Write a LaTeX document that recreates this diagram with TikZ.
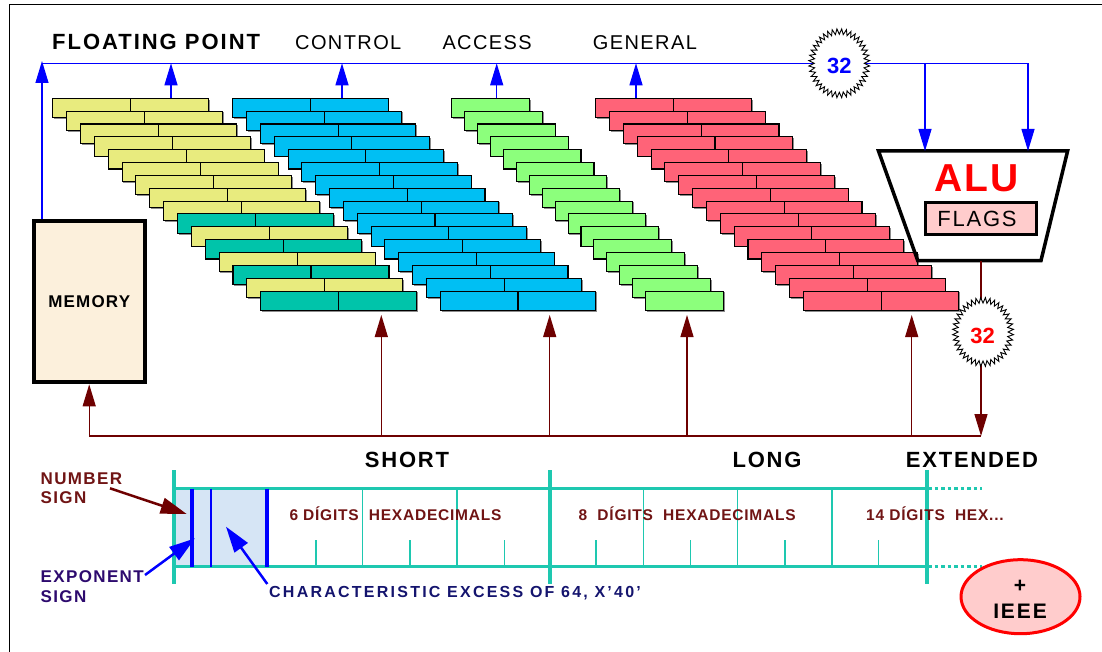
\documentclass[tikz,border=0pt]{standalone}
\usepackage{fontspec}
\setmainfont{Liberation Sans}
\usetikzlibrary{arrows.meta,shapes.geometric}

\definecolor{fpyellow}{HTML}{E8EB7E}
\definecolor{fpteal}{HTML}{00C4AA}
\definecolor{crcyan}{HTML}{00BFF3}
\definecolor{argreen}{HTML}{8CFF7C}
\definecolor{grred}{HTML}{FF6378}
\definecolor{fmtteal}{HTML}{1EC8B0}
\definecolor{busblue}{HTML}{0000FF}
\definecolor{linkred}{HTML}{6E0000}
\definecolor{memfill}{HTML}{FCF0DC}
\definecolor{flagfill}{HTML}{FFCCCC}
\definecolor{fieldblue}{HTML}{D6E5F5}
\definecolor{txtred}{HTML}{701414}
\definecolor{txtindigo}{HTML}{2D0A6E}
\definecolor{txtnavy}{HTML}{14146E}
\definecolor{alured}{HTML}{FF0000}

\newcommand{\fsz}[2]{\fontsize{#1}{#2}\selectfont}

\begin{document}
\begin{tikzpicture}[x=1pt,y=-1pt,
  regcell/.style={draw=black, line width=1.1pt},
  regshadow/.style={fill=black!45},
  busline/.style={draw=busblue, line width=1.2pt},
  busarrow/.style={busline, -{Triangle[length=22pt,width=13pt]}},
  linkline/.style={draw=linkred, line width=1.3pt},
  linkarrow/.style={linkline, -{Triangle[length=22pt,width=13pt]}},
  burst/.style={fill=white, draw=black, line width=0.9pt},
  fmtthick/.style={draw=fmtteal, line width=3.5pt},
  fmtthin/.style={draw=fmtteal, line width=1.5pt},
  fmtdots/.style={draw=fmtteal, line width=3pt, dash pattern=on 3.5pt off 3pt},
  fieldline/.style={draw=busblue, line width=#1},
  pointer/.style={line width=2.5pt, -{Triangle[length=26pt,width=16pt]}},
  txt/.style={inner sep=0pt, anchor=base},
  txtw/.style={inner sep=0pt, anchor=base west},
  hdbold/.style={txtw, font=\fsz{22}{26}\bfseries\addfontfeatures{LetterSpace=9}},
  hdreg/.style={txtw, font=\fsz{20}{24}\addfontfeatures{LetterSpace=7}},
  fmtname/.style={txt, font=\fsz{22}{26}\bfseries\addfontfeatures{LetterSpace=8}},
  digits/.style={txtw, text=txtred, font=\fsz{15.5}{18}\bfseries\addfontfeatures{LetterSpace=5}},
  side/.style={txtw, font=\fsz{17}{19}\bfseries\addfontfeatures{LetterSpace=8}},
  count/.style={txt, font=\fsz{22}{26}\bfseries},
  starburst/.pic={
    \draw[burst] plot[samples=80, domain=0:79, variable=\k]
      ({(25+5.5*mod(round(\k),2))*cos(4.5*\k)}, {(29+5.5*mod(round(\k),2))*sin(4.5*\k)}) -- cycle;
  }
]
\useasboundingbox (0,0) rectangle (1102,652);

% page frame
\draw[line width=1pt] (9,652) -- (9,5) -- (1102,5);

% register group headings
\node[hdbold] (h-fp) at (52,49.3) {FLOATING POINT};
\node[hdreg] (h-cr) at (295,49.3) {CONTROL};
\node[hdreg] (h-ar) at (442.3,49.3) {ACCESS};
\node[hdreg] (h-gr) at (592.7,49.3) {GENERAL};

% floating point registers
\foreach \i in {0,...,15}{
  \pgfmathsetmacro{\xl}{52.7+13.87*\i}
  \pgfmathsetmacro{\yt}{98.3+12.85*\i}
  \pgfmathtruncatemacro{\alt}{(\i>8)&&(mod(\i,2)==1)}
  \ifnum\alt=1 \colorlet{rowfill}{fpteal}\else\colorlet{rowfill}{fpyellow}\fi
  \fill[regshadow] (\xl+1.3,\yt+1.3) rectangle ++(156,19.3);
  \draw[regcell, fill=rowfill] (\xl,\yt) rectangle ++(78,19.3);
  \draw[regcell, fill=rowfill] (\xl+78,\yt) rectangle ++(78,19.3);
}
% control registers
\foreach \i in {0,...,15}{
  \pgfmathsetmacro{\xl}{232.7+13.84*\i}
  \pgfmathsetmacro{\yt}{98.3+12.85*\i}
  \fill[regshadow] (\xl+1.3,\yt+1.3) rectangle ++(155.4,19.3);
  \draw[regcell, fill=crcyan] (\xl,\yt) rectangle ++(77.7,19.3);
  \draw[regcell, fill=crcyan] (\xl+77.7,\yt) rectangle ++(77.7,19.3);
}
% access registers
\foreach \i in {0,...,15}{
  \pgfmathsetmacro{\xl}{451.7+12.93*\i}
  \pgfmathsetmacro{\yt}{98.3+12.85*\i}
  \fill[regshadow] (\xl+1.3,\yt+1.3) rectangle ++(77.6,19.3);
  \draw[regcell, fill=argreen] (\xl,\yt) rectangle ++(77.6,19.3);
}
% general registers
\foreach \i in {0,...,15}{
  \pgfmathsetmacro{\xl}{595.7+13.84*\i}
  \pgfmathsetmacro{\yt}{98.3+12.85*\i}
  \fill[regshadow] (\xl+1.3,\yt+1.3) rectangle ++(155.6,19.3);
  \draw[regcell, fill=grred] (\xl,\yt) rectangle ++(77.8,19.3);
  \draw[regcell, fill=grred] (\xl+77.8,\yt) rectangle ++(77.8,19.3);
}

% memory
\node[draw=black, line width=4pt, fill=memfill, minimum width=111pt, minimum height=161.3pt,
      inner sep=0pt, font=\fsz{17}{20}\bfseries\addfontfeatures{LetterSpace=7}]
      (mem) at (89.2,301.7) {MEMORY};

% ALU with flags
\coordinate (alu-tl) at (878.5,151);
\coordinate (alu-tr) at (1067.6,151);
\coordinate (alu-br) at (1041,260.5);
\coordinate (alu-bl) at (917.7,260.5);
\draw[line width=3.5pt, line join=miter] (alu-tl) -- (alu-tr) -- (alu-br) -- (alu-bl) -- cycle;
\node[txt, text=alured, font=\fsz{39}{44}\bfseries\addfontfeatures{LetterSpace=5}] (alu) at (976.7,191.7) {ALU};
\node[draw=black, line width=3pt, fill=flagfill, minimum width=111.3pt, minimum height=32.3pt, inner sep=0pt]
      (flags) at (981.2,218.4) {};
\node[txt, font=\fsz{22}{26}\addfontfeatures{LetterSpace=8}] (flags-t) at (977,226.7) {FLAGS};

% 32-bit bus to the register files
\coordinate (bus-w) at (42,63.3);
\coordinate (bus-wtip) at (42,61);
\coordinate (bus-e) at (1028,63.3);
\coordinate (bus-a) at (925,63.3);
\coordinate (alu-in1) at (925,151);
\coordinate (alu-in2) at (1028,151);
\draw[busline] (bus-w) -- (bus-e);
\draw[busarrow] (bus-w |- mem.north) -- (bus-wtip);
\foreach \bx/\nm in {171/fp, 342/cr, 496.7/ar, 636/gr}{
  \coordinate (\nm-top) at (\bx,98.3);
  \coordinate (\nm-bus) at (\bx,63.3);
  \draw[busarrow] (\nm-top) -- (\nm-bus);
}
\draw[busarrow] (bus-a) -- (alu-in1);
\draw[busarrow] (bus-e) -- (alu-in2);
\pic at (839.3,63.3) {starburst};
\node[count, text=busblue] (w32a) at (839.3,74) {32};

% return path from the ALU
\coordinate (alu-out) at (981,260.5);
\coordinate (ret-e) at (981,436);
\coordinate (ret-w) at (89.2,436);
\draw[linkline] (ret-w) -- (ret-e);
\draw[linkarrow] (alu-out) -- (ret-e);
\draw[linkarrow] (ret-w) -- (mem.south);
\foreach \rx/\nm in {381.3/fp, 549.7/cr, 687/ar, 911.7/gr}{
  \coordinate (\nm-ret) at (\rx,436);
  \coordinate (\nm-bot) at (\rx,315);
  \draw[linkarrow] (\nm-ret) -- (\nm-bot);
}
\pic at (983,332) {starburst};
\node[count, text=alured] (w32b) at (982.5,343.3) {32};

% floating point formats
\node[fmtname] (f-short) at (407,467) {SHORT};
\node[fmtname] (f-long) at (767,467) {LONG};
\node[fmtname] (f-ext) at (972,467) {EXTENDED};

\fill[fieldblue] (175.5,490) rectangle (267,565);
\foreach \tx in {362.5,457,643.7,737.4,831.8}
  \draw[fmtthin] (\tx,488.5) -- (\tx,566.5);
\foreach \tx in {315.9,409.9,504.3,595.8,690.6,785,878.6}
  \draw[fmtthin] (\tx,540) -- (\tx,566.5);
\draw[fmtthick] (174,488.5) -- (927,488.5);
\draw[fmtthick] (174,566.5) -- (927,566.5);
\draw[fmtdots] (928,488.5) -- (982,488.5);
\draw[fmtdots] (928,566.5) -- (982,566.5);
\foreach \tx in {174,550,927}
  \draw[fmtthick] (\tx,470) -- (\tx,584);
\draw[fieldline=3.3pt] (192,488.5) -- (192,566.5);
\draw[fieldline=2pt] (210.7,488.5) -- (210.7,566.5);
\draw[fieldline=3.3pt] (267,488.5) -- (267,566.5);

\node[digits] (d-short) at (289.3,520.5) {6 DÍGITS~ HEXADECIMALS};
\node[digits] (d-long) at (578.5,520.5) {8~ DÍGITS~ HEXADECIMALS};
\node[digits] (d-ext) at (866,520.5) {14 DÍGITS~ HEX...};

% field annotations
\node[side, text=txtred] (ns1) at (40.5,484) {NUMBER};
\node[side, text=txtred] (ns2) at (40.5,503.3) {SIGN};
\node[side, text=txtindigo] (es1) at (40.5,582.7) {EXPONENT};
\node[side, text=txtindigo] (es2) at (40.5,602.7) {SIGN};
\node[txtw, text=txtnavy, font=\fsz{16}{19}\bfseries\addfontfeatures{LetterSpace=14}]
      (chr) at (269,597.3) {CHARACTERISTIC EXCESS OF 64, X’40’};

\coordinate (ns-from) at (110,488.3);
\coordinate (ns-to) at (186.7,514);
\coordinate (es-from) at (145,575);
\coordinate (es-to) at (195,538.3);
\coordinate (ch-from) at (267.3,584);
\coordinate (ch-to) at (226,526.7);
\draw[pointer, draw=linkred] (ns-from) -- (ns-to);
\draw[pointer, draw=busblue] (es-from) -- (es-to);
\draw[pointer, draw=busblue] (ch-from) -- (ch-to);

% IEEE note
\node[ellipse, draw=alured, line width=3pt, fill=flagfill, minimum width=119pt, minimum height=74pt, inner sep=0pt]
      (ieee) at (1020.5,596.7) {};
\node[txt, font=\fsz{21}{24}\bfseries] (ieee-plus) at (1020,592) {+};
\node[txt, font=\fsz{21}{24}\bfseries\addfontfeatures{LetterSpace=9}] (ieee-t) at (1020,618.3) {IEEE};
\end{tikzpicture}
\end{document}
